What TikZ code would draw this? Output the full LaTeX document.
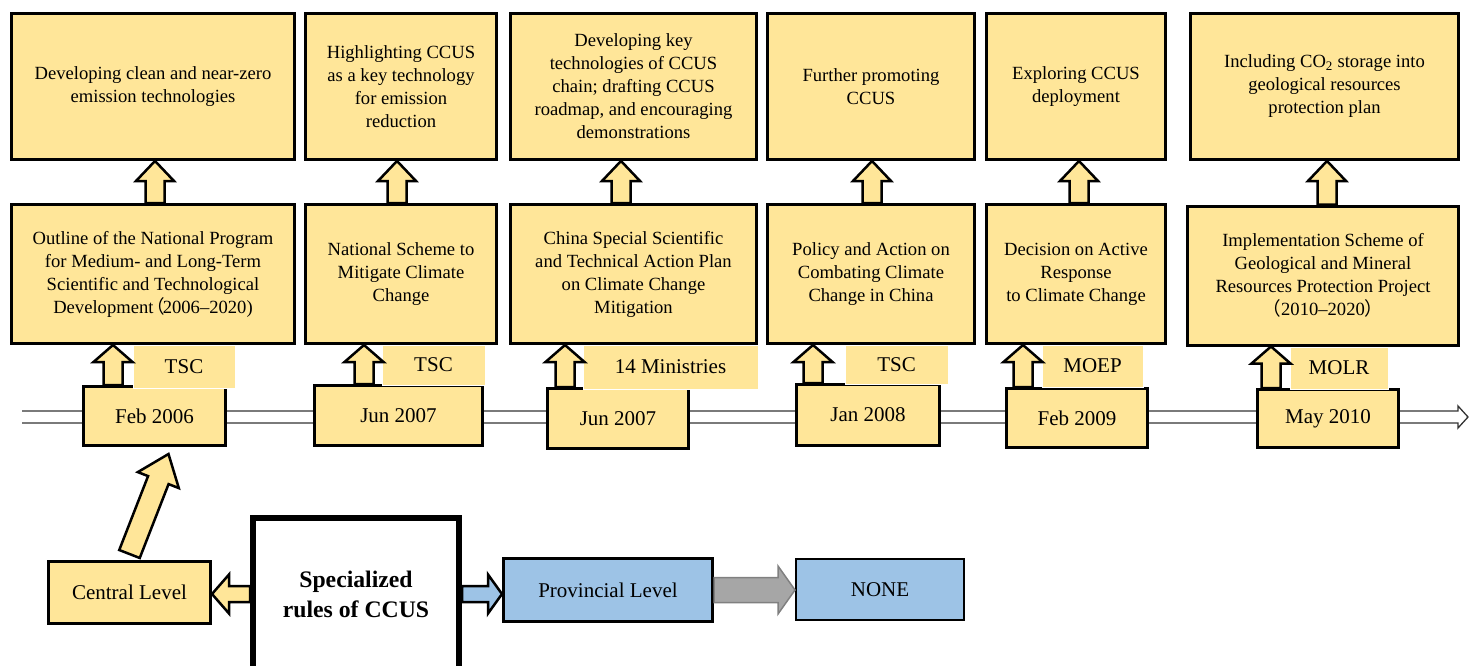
\documentclass[tikz,border=0pt]{standalone}
\usepackage{fontspec}
\setmainfont{Liberation Serif}
\newfontfamily\cjk{Noto Sans CJK SC}
\usetikzlibrary{calc}

\definecolor{ylw}{HTML}{FFE699}
\definecolor{blu}{HTML}{9DC3E6}
\definecolor{gry}{HTML}{A6A6A6}

\newcommand{\boxfont}{\fontsize{18.6}{23}\selectfont}
\newcommand{\datefont}{\fontsize{21}{25}\selectfont}
\newcommand{\rulefont}{\fontsize{23.7}{30}\selectfont\bfseries}

\tikzstyle{plan} = [rectangle, draw=black, line width=3pt, fill=ylw, align=center, font=\boxfont, inner sep=2pt]
\tikzstyle{datebox} = [rectangle, draw=black, line width=3pt, fill=ylw, font=\datefont]
\tikzstyle{agency} = [rectangle, draw=white, line width=1pt, fill=ylw, font=\datefont]
\tikzstyle{level} = [rectangle, draw=black, line width=3pt, font=\datefont]
\tikzstyle{rules} = [rectangle, draw=black, line width=6pt, fill=white, align=center, font=\rulefont]
\tikzstyle{bkarrow} = [draw=black, line width=2.5pt, fill=ylw, line join=miter]
\tikzstyle{timeline} = [draw=black!80, line width=1.3pt]

\tikzset{bk shaft/.store in=\bkshaft, bk head/.store in=\bkhead, bk len/.store in=\bkhlen,
  bk shaft=9.5pt, bk head=19pt, bk len=20pt}

% block arrow from #2 to #3
\newcommand{\blockarrow}[3][]{%
  \draw[bkarrow,#1] let \p1=(#2), \p2=(#3),
      \n1={atan2(\y2-\y1,\x2-\x1)}, \n2={veclen(\x2-\x1,\y2-\y1)} in
    [shift={(\p1)}, rotate=\n1]
    (0pt,-\bkshaft) -- ({\n2-\bkhlen},-\bkshaft) -- ({\n2-\bkhlen},-\bkhead)
    -- (\n2,0pt) -- ({\n2-\bkhlen},\bkhead) -- ({\n2-\bkhlen},\bkshaft)
    -- (0pt,\bkshaft) -- cycle;}

\begin{document}
\begin{tikzpicture}[x=1pt, y=-1pt]
\useasboundingbox (0,0) rectangle (1480,666);

% Time line
\coordinate (tl0) at (22,417);
\coordinate (tl1) at (1468,417);
\draw[timeline] ($(tl0)+(0,-6)$) -| ($(tl1)+(-10,-11)$) -- (tl1) -- ($(tl1)+(-10,11)$) |- ($(tl0)+(0,6)$);

% Dates
\node (d1) [datebox, minimum width=142pt, minimum height=59pt] at (154.5,416) {Feb 2006};
\node (d2) [datebox, minimum width=168pt, minimum height=60pt] at (398.5,415.5) {Jun 2007};
\node (d3) [datebox, minimum width=141pt, minimum height=60pt] at (618,418.5) {Jun 2007};
\node (d4) [datebox, minimum width=143pt, minimum height=61pt] at (868,415) {Jan 2008};
\node (d5) [datebox, minimum width=141pt, minimum height=59pt] at (1077,418) {Feb 2009};
\node (d6) [datebox, minimum width=141pt, minimum height=58pt] at (1328,418.5) {May 2010};

% Issuing bodies
\node (a1) [agency, minimum width=102pt, minimum height=43pt] at (184,366.5) {TSC};
\node (a2) [agency, minimum width=103pt, minimum height=40pt] at (433.5,365) {TSC};
\node (a3) [agency, minimum width=175pt, minimum height=44pt] at (670.5,367) {14 Ministries};
\node (a4) [agency, minimum width=103pt, minimum height=39pt] at (896.5,364.5) {TSC};
\node (a5) [agency, minimum width=101pt, minimum height=42pt] at (1092.5,366) {MOEP};
\node (a6) [agency, minimum width=98pt, minimum height=42pt] at (1339,368) {MOLR};

% Documents
\node (m1) [plan, minimum width=283pt, minimum height=139pt] at (153,274) {Outline of the National Program\\for Medium- and Long-Term\\Scientific and Technological\\Development\hspace{-0.4em}{\cjk（}\hspace{-0.1em}2006–2020)};
\node (m2) [plan, minimum width=191pt, minimum height=139pt] at (401,274) {National Scheme to\\Mitigate Climate\\Change};
\node (m3) [plan, minimum width=246pt, minimum height=139pt] at (633.5,274) {China Special Scientific\\and Technical Action Plan\\on Climate Change\\Mitigation};
\node (m4) [plan, minimum width=207pt, minimum height=139pt] at (871,274) {Policy and Action on\\Combating Climate\\Change in China};
\node (m5) [plan, minimum width=179pt, minimum height=139pt] at (1076,274) {Decision on Active\\Response\\to Climate Change};
\node (m6) [plan, minimum width=271pt, minimum height=139pt] at (1323,275.5) {Implementation Scheme of\\Geological and Mineral\\Resources Protection Project\\{\cjk（}2010–2020{\cjk）}};

% Contents
\node (t1) [plan, minimum width=283pt, minimum height=146pt] at (153,86.5) {Developing clean and near-zero\\emission technologies};
\node (t2) [plan, minimum width=191pt, minimum height=146pt] at (401,86.5) {Highlighting CCUS\\as a key technology\\for emission\\reduction};
\node (t3) [plan, minimum width=246pt, minimum height=146pt] at (633.5,86.5) {Developing key\\technologies of CCUS\\chain; drafting CCUS\\roadmap, and encouraging\\demonstrations};
\node (t4) [plan, minimum width=207pt, minimum height=146pt] at (871,86.5) {Further promoting\\CCUS};
\node (t5) [plan, minimum width=179pt, minimum height=146pt] at (1076,86.5) {Exploring CCUS\\deployment};
\node (t6) [plan, minimum width=268pt, minimum height=146pt] at (1324.5,86.5) {Including CO\textsubscript{2} storage into\\geological resources\\protection plan};

% Levels
\node (spec) [rules, minimum width=206pt, minimum height=152pt] at (356,594) {Specialized\\rules of CCUS};
\node (cl) [level, fill=ylw, minimum width=162pt, minimum height=62pt] at (129.5,592.5) {Central Level};
\node (prov) [level, fill=blu, minimum width=209pt, minimum height=63pt] at (608,590) {Provincial Level};
\node (none) [level, fill=blu, line width=2pt, minimum width=168pt, minimum height=61pt] at (880,589.5) {NONE};

% Arrows
\foreach \i/\vx/\sx in {1/155/113, 2/397/364, 3/621/565, 4/872/813, 5/1079/1023, 6/1327/1271} {
  \coordinate (v\i) at (\vx,0);
  \coordinate (s\i) at (\sx,0);
  \blockarrow{v\i |- m\i.north}{v\i |- t\i.south}
  \blockarrow[bk len=17pt, bk head=19.5pt]{s\i |- d\i.north}{s\i |- m\i.south}
}
\blockarrow[bk shaft=11pt, bk head=22pt, bk len=28pt]{$(cl.north)+(0,-6)$}{$(d1.south)+(14,7)$}
\blockarrow[bk shaft=8pt, bk head=19.5pt, bk len=17pt]{spec.west}{spec.west -| cl.east}
\blockarrow[fill=blu, bk shaft=8pt, bk head=19.5pt, bk len=14pt]{spec.east}{spec.east -| prov.west}
\blockarrow[fill=gry, draw=black!50, line width=1.5pt, bk shaft=12.5pt, bk head=24pt, bk len=17pt]{prov.east}{prov.east -| none.west}

\end{tikzpicture}
\end{document}
